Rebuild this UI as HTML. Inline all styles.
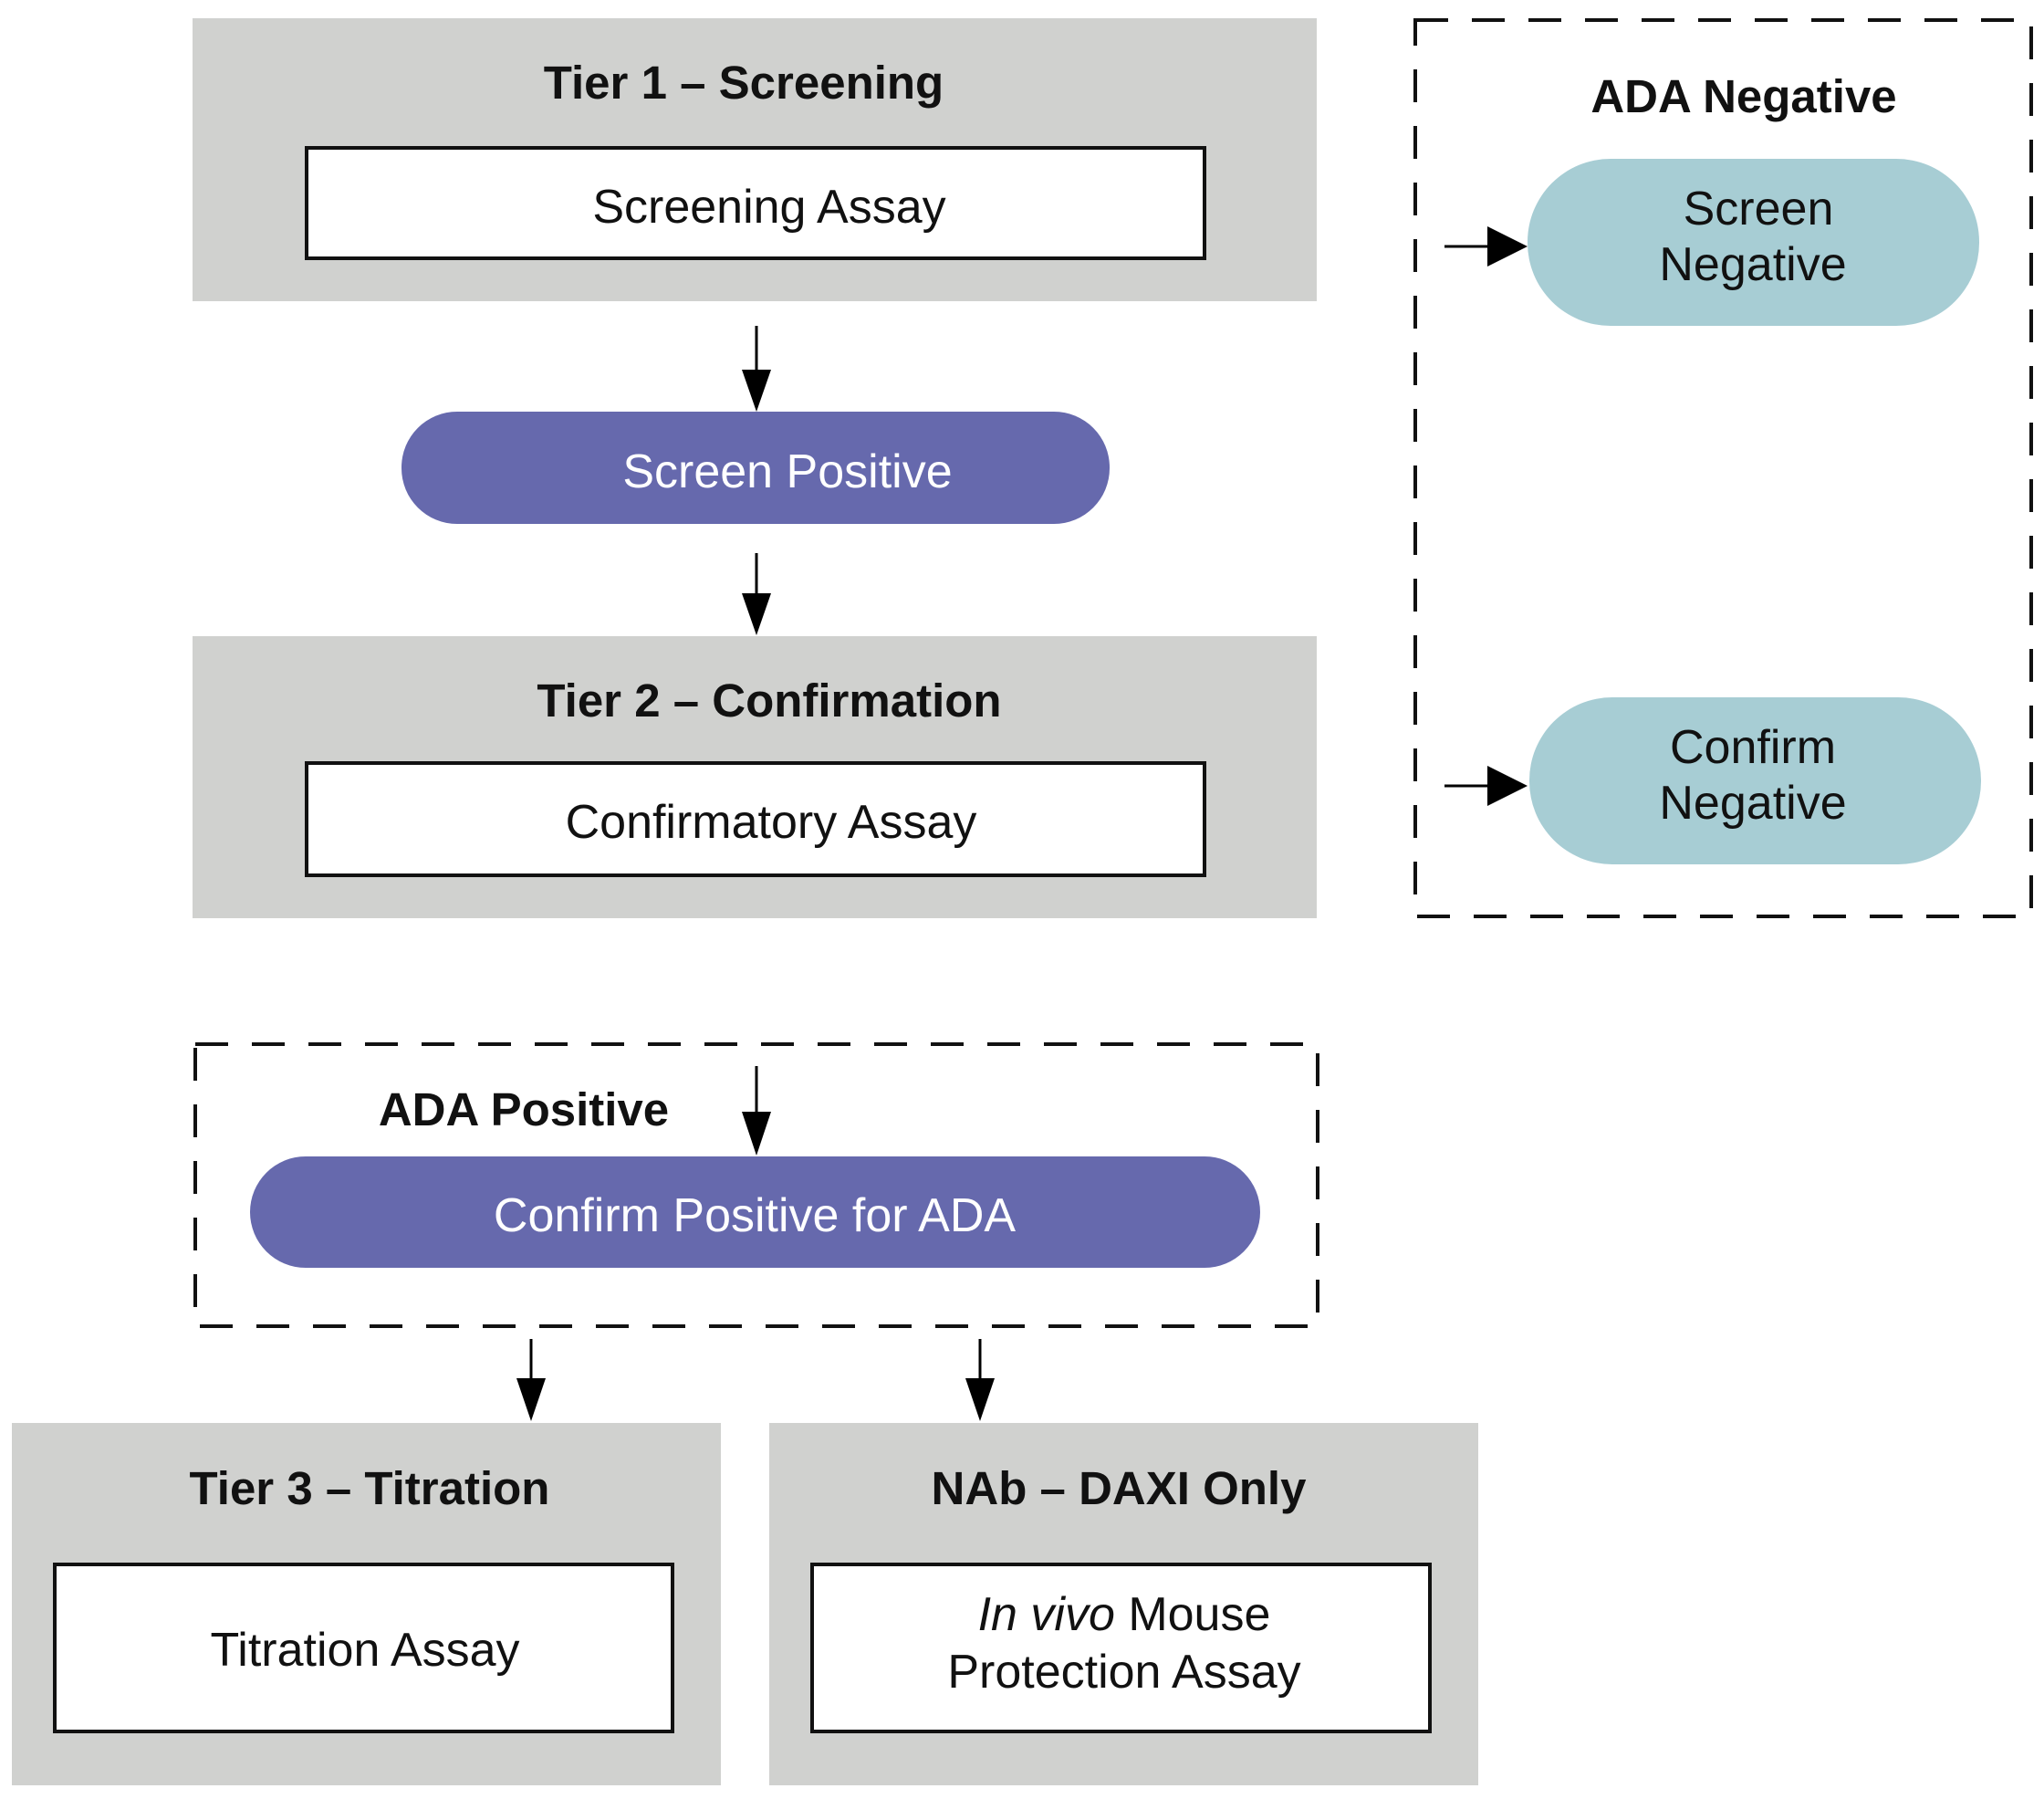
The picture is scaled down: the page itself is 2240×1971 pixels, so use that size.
<!DOCTYPE html>
<html><head><meta charset="utf-8"><style>
html,body{margin:0;padding:0;background:#fff;}
svg{display:block;}
text{font-family:"Liberation Sans",Arial,sans-serif;}
.t{font-weight:bold;font-size:51px;fill:#111;text-anchor:middle;}
.n{font-size:52px;fill:#111;text-anchor:middle;}
.w{font-size:52px;fill:#fff;text-anchor:middle;}
</style></head><body>
<svg width="2240" height="1971" viewBox="0 0 2240 1971" xmlns="http://www.w3.org/2000/svg">
<rect width="2240" height="1971" fill="#fff"/>
<rect x="211" y="20" width="1232" height="310" fill="#d0d1cf"/>
<text class="t" x="815" y="108">Tier 1 – Screening</text>
<rect x="336" y="162" width="984" height="121" fill="#fff" stroke="#111" stroke-width="4"/>
<text class="n" x="843" y="244">Screening Assay</text>
<line x1="829" y1="357" x2="829" y2="420" stroke="#000" stroke-width="3"/>
<path d="M813,405 L845,405 L829,451 z" fill="#000"/>
<rect x="440" y="451" width="776" height="123" rx="61" fill="#6669ad"/>
<text class="w" x="863" y="534">Screen Positive</text>
<line x1="829" y1="606" x2="829" y2="665" stroke="#000" stroke-width="3"/>
<path d="M813,650 L845,650 L829,696 z" fill="#000"/>
<rect x="211" y="697" width="1232" height="309" fill="#d0d1cf"/>
<text class="t" x="843" y="785">Tier 2 – Confirmation</text>
<rect x="336" y="836" width="984" height="123" fill="#fff" stroke="#111" stroke-width="4"/>
<text class="n" x="845" y="918">Confirmatory Assay</text>
<rect x="1551" y="22" width="675" height="982" fill="none" stroke="#111" stroke-width="4" stroke-dasharray="36,26"/>
<text class="t" x="1911" y="123">ADA Negative</text>
<rect x="1674" y="174" width="495" height="183" rx="91" fill="#a7cdd4"/>
<text class="n" x="1927" y="246">Screen</text>
<text class="n" x="1921" y="307">Negative</text>
<line x1="1583" y1="270" x2="1640" y2="270" stroke="#000" stroke-width="3"/>
<path d="M1630,248 L1674,270 L1630,292 z" fill="#000"/>
<rect x="1676" y="764" width="495" height="183" rx="91" fill="#a7cdd4"/>
<text class="n" x="1921" y="836">Confirm</text>
<text class="n" x="1921" y="897">Negative</text>
<line x1="1583" y1="861" x2="1640" y2="861" stroke="#000" stroke-width="3"/>
<path d="M1630,839 L1674,861 L1630,883 z" fill="#000"/>
<rect x="214" y="1144" width="1230" height="309" fill="none" stroke="#111" stroke-width="4" stroke-dasharray="36,26"/>
<text class="t" x="574" y="1233">ADA Positive</text>
<line x1="829" y1="1168" x2="829" y2="1225" stroke="#000" stroke-width="3"/>
<path d="M813,1218 L845,1218 L829,1266 z" fill="#000"/>
<rect x="274" y="1267" width="1107" height="122" rx="61" fill="#6669ad"/>
<text class="w" x="827" y="1349">Confirm Positive for ADA</text>
<line x1="582" y1="1467" x2="582" y2="1515" stroke="#000" stroke-width="3"/>
<path d="M566,1510 L598,1510 L582,1557 z" fill="#000"/>
<line x1="1074" y1="1467" x2="1074" y2="1515" stroke="#000" stroke-width="3"/>
<path d="M1058,1510 L1090,1510 L1074,1557 z" fill="#000"/>
<rect x="13" y="1559" width="777" height="397" fill="#d0d1cf"/>
<text class="t" x="405" y="1648">Tier 3 – Titration</text>
<rect x="60" y="1714" width="677" height="183" fill="#fff" stroke="#111" stroke-width="4"/>
<text class="n" x="400" y="1825">Titration Assay</text>
<rect x="843" y="1559" width="777" height="397" fill="#d0d1cf"/>
<text class="t" x="1226" y="1648">NAb – DAXI Only</text>
<rect x="890" y="1714" width="677" height="183" fill="#fff" stroke="#111" stroke-width="4"/>
<text class="n" x="1232" y="1786"><tspan font-style="italic">In vivo</tspan> Mouse</text>
<text class="n" x="1232" y="1849">Protection Assay</text>
</svg>
</body></html>
